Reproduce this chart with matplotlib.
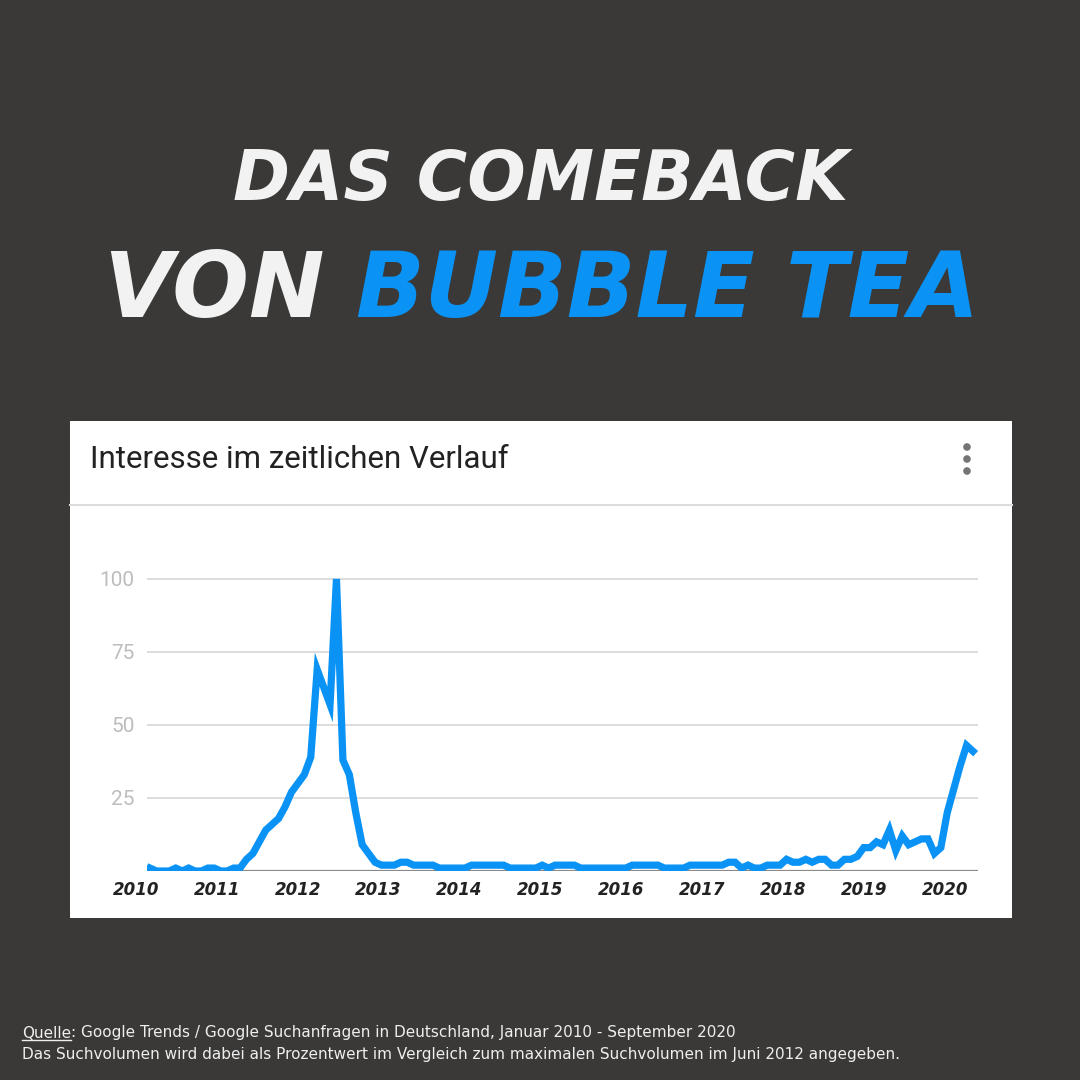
import numpy as np
import matplotlib.pyplot as plt
from matplotlib.patches import Rectangle, Circle
from matplotlib.lines import Line2D

# Google Trends "bubble tea", Deutschland, monatlich Jan 2010 - Sep 2020
werte_2010_2011 = [1, 0, 0, 0, 1, 0, 1, 0, 0, 1, 1, 0,
                   0, 1, 1, 4, 6, 10, 14, 16, 18, 22, 27, 30]
werte_2012_2013 = [33, 39, 69, 63, 57, 100, 38, 33, 20, 9, 6, 3,
                   2, 2, 2, 3, 3, 2, 2, 2, 2, 1, 1, 1]
werte_2014_2015 = [1, 1, 2, 2, 2, 2, 2, 2, 1, 1, 1, 1,
                   1, 2, 1, 2, 2, 2, 2, 1, 1, 1, 1, 1]
werte_2016_2017 = [1, 1, 1, 2, 2, 2, 2, 2, 1, 1, 1, 1,
                   2, 2, 2, 2, 2, 2, 3, 3, 1, 2, 1, 1]
werte_2018_2019 = [2, 2, 2, 4, 3, 3, 4, 3, 4, 4, 2, 2,
                   4, 4, 5, 8, 8, 10, 9, 14, 7, 12, 9, 10]
werte_2020 = [11, 11, 6, 8, 20, 28, 36, 43, 41]

werte = werte_2010_2011 + werte_2012_2013 + werte_2014_2015 + werte_2016_2017 + werte_2018_2019 + werte_2020
monate = np.arange(len(werte))

jahre = ['2010', '2011', '2012', '2013', '2014', '2015', '2016', '2017', '2018', '2019', '2020']
y_ticks = [25, 50, 75, 100]

HG = '#3a3938'
BLAU = '#0a93f5'
TITEL_FONT = ['DejaVu Sans']

W = 1080.0


def px(x, y):
    # Pixel (von oben links) -> Figurkoordinaten
    return x / W, 1 - y / W


fig = plt.figure(figsize=(10.8, 10.8), dpi=100)
fig.patch.set_facecolor(HG)

# Titel
fig.text(*px(541, 200), 'DAS COMEBACK', color='#f2f2f2', fontsize=49.5,
         family=TITEL_FONT, weight='bold', style='italic', ha='center', va='baseline')
t1 = fig.text(*px(104, 317), 'VON ', color='#f2f2f2', fontsize=65,
              family=TITEL_FONT, weight='bold', style='italic', ha='left', va='baseline')
fig.canvas.draw()
bb = t1.get_window_extent()
fig.text(bb.x1 / W, 1 - 317 / W, 'BUBBLE TEA', color=BLAU, fontsize=65,
         family=TITEL_FONT, weight='bold', style='italic', ha='left', va='baseline')

# Karte
fig.patches.append(Rectangle(px(70, 918), 942 / W, 497 / W, transform=fig.transFigure,
                             facecolor='white', edgecolor='none', zorder=-2))
fig.lines.append(Line2D([70 / W, 1012 / W], [1 - 505 / W, 1 - 505 / W], transform=fig.transFigure,
                        color='#dcdcdc', lw=1.5))
fig.text(*px(90, 459), 'Interesse im zeitlichen Verlauf', color='#222222', fontsize=22.5,
         family=['Roboto', 'DejaVu Sans'], ha='left', va='center')
for yy in [447, 459, 471]:
    fig.patches.append(Circle(px(967, yy), 3.8 / W, transform=fig.transFigure,
                              facecolor='#757575', edgecolor='none'))

# Diagramm
ax = fig.add_axes([147 / W, (W - 871) / W, 831 / W, 311 / W])
ax.set_zorder(2)
ax.patch.set_alpha(0)
ax.plot(monate, werte, color=BLAU, lw=5.2, solid_joinstyle='miter', zorder=3)

for v in y_ticks:
    ax.axhline(v, color='#dddddd', lw=1.4, zorder=1)
ax.axhline(0, color='#8a8a8a', lw=1.6, zorder=2)

ax.set_yticks(y_ticks)
ax.set_yticklabels([str(v) for v in y_ticks], color='#bdbdbd', fontsize=15,
                   family=['Roboto', 'DejaVu Sans'])
ax.set_xticks([])
ax.set_xlim(-0.47, 128.78)
ax.set_ylim(0, 106.5)

# Jahreslabels (teilweise links ausserhalb der Achse)
for pos, jahr in zip(np.linspace(-2.2, 123.6, len(jahre)), jahre):
    ax.text(pos, -6.4, jahr, transform=ax.transData, clip_on=False, color='#222222',
            fontsize=12, family=TITEL_FONT, weight='bold', style='italic',
            ha='center', va='center')

ax.tick_params(axis='both', length=0)
ax.tick_params(axis='y', pad=9)
for s in ax.spines.values():
    s.set_visible(False)

# Quelle
FUSS_FONT = ['DejaVu Sans']
q = fig.text(*px(22, 1033), 'Quelle', color='#eeeeee', fontsize=11, family=FUSS_FONT,
             ha='left', va='center')
fig.canvas.draw()
qb = q.get_window_extent()
fig.text(qb.x1 / W, 1 - 1033 / W, ': Google Trends / Google Suchanfragen in Deutschland, Januar 2010 - September 2020',
         color='#eeeeee', fontsize=11, family=FUSS_FONT, ha='left', va='center')
fig.lines.append(Line2D([qb.x0 / W, qb.x1 / W], [(qb.y0 + 1) / W, (qb.y0 + 1) / W],
                        transform=fig.transFigure, color='#eeeeee', lw=1))
fig.text(*px(22, 1055), 'Das Suchvolumen wird dabei als Prozentwert im Vergleich zum maximalen Suchvolumen im Juni 2012 angegeben.',
         color='#eeeeee', fontsize=11, family=FUSS_FONT, ha='left', va='center')

fig.savefig('out.png', dpi=100, facecolor=HG)
